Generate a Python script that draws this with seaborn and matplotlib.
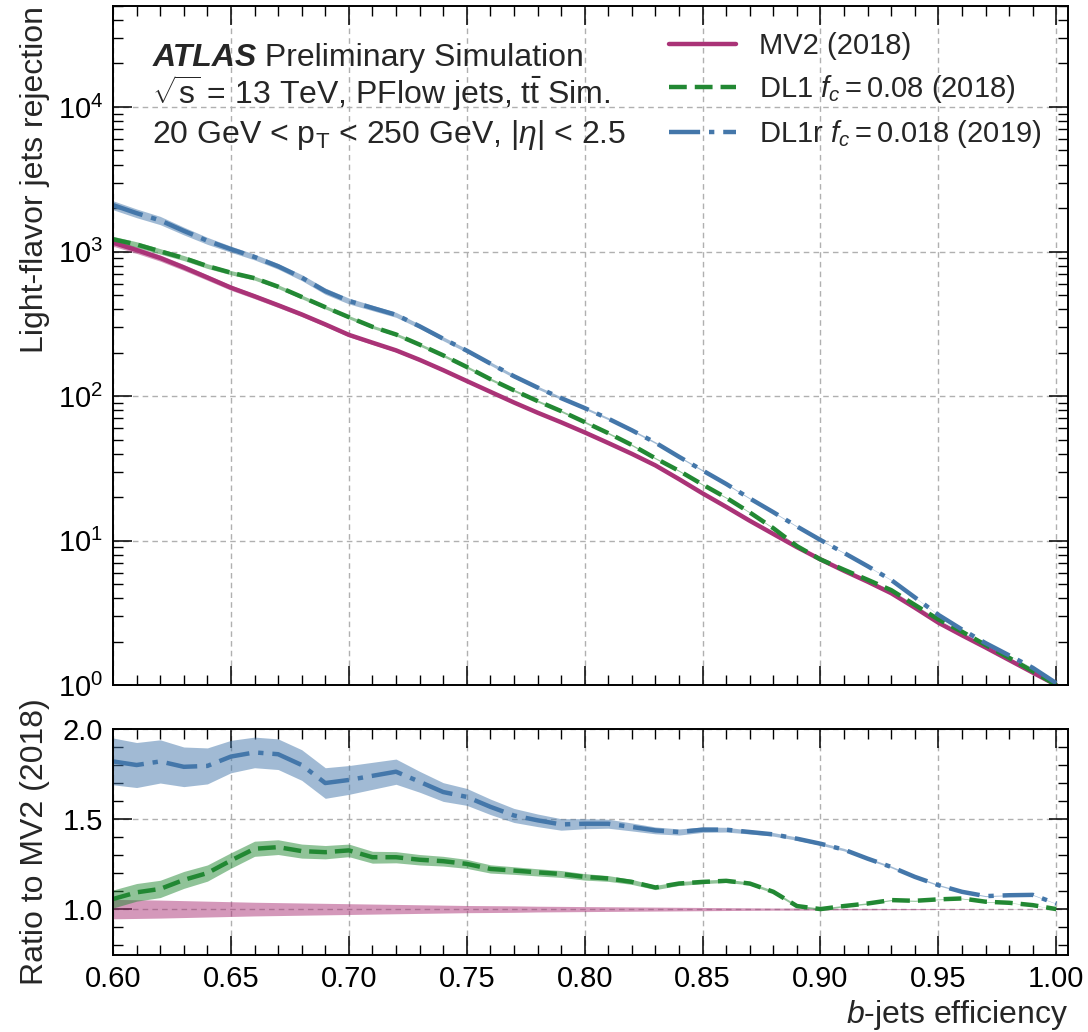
import numpy as np
import matplotlib
matplotlib.use("Agg")
import matplotlib.pyplot as plt
import seaborn as sns
from matplotlib.ticker import MultipleLocator, LogLocator, NullFormatter, FormatStrFormatter

# b-jet efficiency working points
efficiency = [0.60, 0.61, 0.62, 0.63, 0.64, 0.65, 0.66, 0.67, 0.68, 0.69,
              0.70, 0.71, 0.72, 0.73, 0.74, 0.75, 0.76, 0.77, 0.78, 0.79,
              0.80, 0.81, 0.82, 0.83, 0.84, 0.85, 0.86, 0.87, 0.88, 0.89,
              0.90, 0.91, 0.92, 0.93, 0.94, 0.95, 0.96, 0.97, 0.98, 0.99, 1.00]

# light-flavour rejection of the MV2 reference tagger
rej_mv2 = [1151, 1023, 902, 776, 661, 562, 490, 425, 367, 313,
           265, 234, 207, 178, 151, 127, 107, 90.2, 76.7, 65.8,
           56.0, 47.3, 39.8, 33.1, 26.6, 21.2, 17.1, 13.7, 11.1, 9.0,
           7.4, 6.17, 5.19, 4.32, 3.43, 2.70, 2.21, 1.82, 1.49, 1.22, 1.0]

# ratio to MV2 (2018)
ratio_dl1 = [1.056, 1.093, 1.112, 1.162, 1.200, 1.270, 1.335, 1.344, 1.322, 1.316,
             1.326, 1.288, 1.288, 1.274, 1.266, 1.251, 1.223, 1.214, 1.204, 1.195,
             1.179, 1.170, 1.151, 1.120, 1.142, 1.151, 1.157, 1.142, 1.096, 1.017,
             1.000, 1.017, 1.031, 1.050, 1.046, 1.054, 1.059, 1.041, 1.035, 1.022, 1.0]
ratio_dl1r = [1.820, 1.800, 1.820, 1.790, 1.795, 1.847, 1.870, 1.860, 1.800, 1.700,
              1.717, 1.740, 1.763, 1.707, 1.650, 1.623, 1.568, 1.520, 1.493, 1.470,
              1.474, 1.474, 1.456, 1.437, 1.428, 1.441, 1.441, 1.428, 1.415, 1.391,
              1.363, 1.330, 1.280, 1.234, 1.179, 1.133, 1.096, 1.072, 1.077, 1.079, 1.03]

# half widths of the statistical bands (ratio units)
band_mv2 = [0.054, 0.052, 0.050, 0.047, 0.044, 0.041, 0.038, 0.036, 0.034, 0.032,
            0.030, 0.028, 0.026, 0.024, 0.022, 0.020, 0.019, 0.018, 0.016, 0.015,
            0.014, 0.013, 0.012, 0.011, 0.010, 0.009, 0.008, 0.007, 0.006, 0.006,
            0.005, 0.004, 0.004, 0.003, 0.003, 0.002, 0.002, 0.001, 0.001, 0.001, 0.0]
band_dl1 = [0.050, 0.049, 0.048, 0.047, 0.045, 0.043, 0.042, 0.041, 0.039, 0.037,
            0.035, 0.033, 0.031, 0.029, 0.027, 0.025, 0.023, 0.021, 0.020, 0.019,
            0.018, 0.016, 0.014, 0.012, 0.011, 0.010, 0.009, 0.008, 0.007, 0.006,
            0.005, 0.004, 0.004, 0.003, 0.003, 0.002, 0.002, 0.002, 0.001, 0.001, 0.0]
band_dl1r = [0.130, 0.125, 0.120, 0.110, 0.100, 0.090, 0.085, 0.085, 0.085, 0.085,
             0.080, 0.075, 0.070, 0.058, 0.052, 0.047, 0.043, 0.039, 0.035, 0.032,
             0.028, 0.025, 0.022, 0.019, 0.017, 0.015, 0.013, 0.011, 0.010, 0.009,
             0.008, 0.007, 0.006, 0.005, 0.004, 0.004, 0.003, 0.003, 0.002, 0.002, 0.001]

labels = ["MV2 (2018)", r"DL1 $f_c = 0.08$ (2018)", r"DL1r $f_c = 0.018$ (2019)"]
colors = ["#AA3377", "#228833", "#4477AA"]
styles = ["-", (0, (4, 1.8)), (0, (7, 2, 1.2, 2))]

sns.set_theme(style="ticks")
plt.rcParams['font.family'] = ['Liberation Sans', 'DejaVu Sans']
plt.rcParams.update({
    'mathtext.fontset': 'custom',
    'mathtext.rm': 'Liberation Sans',
    'mathtext.it': 'Liberation Sans:italic',
    'mathtext.bf': 'Liberation Sans:bold',
    'font.size': 21,
    'axes.labelsize': 23,
    'xtick.labelsize': 21,
    'ytick.labelsize': 21,
    'legend.fontsize': 21,
    'axes.linewidth': 1.4,
    'axes.edgecolor': 'black',
    'xtick.direction': 'in', 'ytick.direction': 'in',
    'xtick.top': True, 'ytick.right': True,
    'xtick.major.size': 14, 'ytick.major.size': 14,
    'xtick.minor.size': 7, 'ytick.minor.size': 7,
    'xtick.major.width': 1.1, 'ytick.major.width': 1.1,
    'xtick.minor.width': 1.0, 'ytick.minor.width': 1.0,
    'xtick.major.pad': 7, 'ytick.major.pad': 7,
    'xtick.color': 'black', 'ytick.color': 'black',
    'axes.axisbelow': True,
})

eff = np.array(efficiency)
mv2 = np.array(rej_mv2)
r1 = np.array(ratio_dl1)
r2 = np.array(ratio_dl1r)
b0 = np.array(band_mv2)
b1 = np.array(band_dl1)
b2 = np.array(band_dl1r)

fig = plt.figure(figsize=(10.88, 10.32), dpi=100)
ax = fig.add_axes([0.1039, 0.3362, 0.8778, 0.6580])
axr = fig.add_axes([0.1039, 0.0746, 0.8778, 0.2190], sharex=ax)

grid_kw = dict(color="#b0b0b0", linestyle=(0, (4, 3)), linewidth=1.0)

# --- top panel: rejection ---
tops = [(mv2, 1.0, b0), (mv2 * r1, r1, b1), (mv2 * r2, r2, b2)]
for (rej, r, b), col, ls, lab in zip(tops, colors, styles, labels):
    ax.fill_between(eff, mv2 * (r - b), mv2 * (r + b), color=col, alpha=0.5, lw=0)
    sns.lineplot(x=eff, y=rej, ax=ax, color=col, linestyle=ls, lw=3.2, label=lab)

ax.set_yscale("log")
ax.set_xlim(0.6, 1.005)
ax.set_ylim(1, 5e4)
ax.yaxis.set_major_locator(LogLocator(base=10, numticks=10))
ax.yaxis.set_minor_locator(LogLocator(base=10, subs=np.arange(2, 10), numticks=20))
ax.yaxis.set_minor_formatter(NullFormatter())
ax.xaxis.set_major_locator(MultipleLocator(0.05))
ax.xaxis.set_minor_locator(MultipleLocator(0.01))
ax.tick_params(axis="x", which="both", labelbottom=False)
ax.grid(True, which="major", **grid_kw)
ax.set_xlabel("")
ax.set_ylabel("Light-flavor jets rejection", loc="top")

t1 = ax.text(0.041, 0.9116, "ATLAS", transform=ax.transAxes, fontsize=23,
             fontweight="bold", fontstyle="italic", va="baseline")
ax.annotate(" Preliminary Simulation", xy=(1, 0), xycoords=t1, va="bottom", ha="left",
            fontsize=23)
ax.text(0.041, 0.8557, r"$\sqrt{\mathrm{s}}$ = 13 TeV, PFlow jets, $\mathrm{t\bar{t}}$ Sim.",
        transform=ax.transAxes, va="baseline", fontsize=23)
ax.text(0.041, 0.7982, r"20 GeV < $\mathrm{p_T}$ < 250 GeV, $|\eta|$ < 2.5",
        transform=ax.transAxes, va="baseline", fontsize=23)

ax.legend(loc="upper right", frameon=False, handlelength=2.3, handletextpad=0.8,
          labelspacing=0.45, borderaxespad=0.5)

# --- bottom panel: ratio ---
axr.fill_between(eff, 1 - b0, 1 + b0, color=colors[0], alpha=0.5, lw=0)
axr.fill_between(eff, r1 - b1, r1 + b1, color=colors[1], alpha=0.5, lw=0)
axr.fill_between(eff, r2 - b2, r2 + b2, color=colors[2], alpha=0.5, lw=0)
sns.lineplot(x=eff, y=r1, ax=axr, color=colors[1], linestyle=styles[1], lw=3.2)
sns.lineplot(x=eff, y=r2, ax=axr, color=colors[2], linestyle=styles[2], lw=3.2)

axr.set_ylim(0.745, 2.0)
axr.yaxis.set_major_locator(MultipleLocator(0.5))
axr.yaxis.set_minor_locator(MultipleLocator(0.1))
axr.xaxis.set_major_locator(MultipleLocator(0.05))
axr.xaxis.set_minor_locator(MultipleLocator(0.01))
axr.xaxis.set_major_formatter(FormatStrFormatter("%.2f"))
axr.yaxis.set_major_formatter(FormatStrFormatter("%.1f"))
axr.grid(True, which="major", **grid_kw)
axr.set_ylabel("Ratio to MV2 (2018)")
axr.set_xlabel(r"$b$-jets efficiency", loc="right")

ax.yaxis.set_label_coords(-0.066, 1.0)
axr.yaxis.set_label_coords(-0.066, 0.5)

fig.savefig("out.png", dpi=100)
